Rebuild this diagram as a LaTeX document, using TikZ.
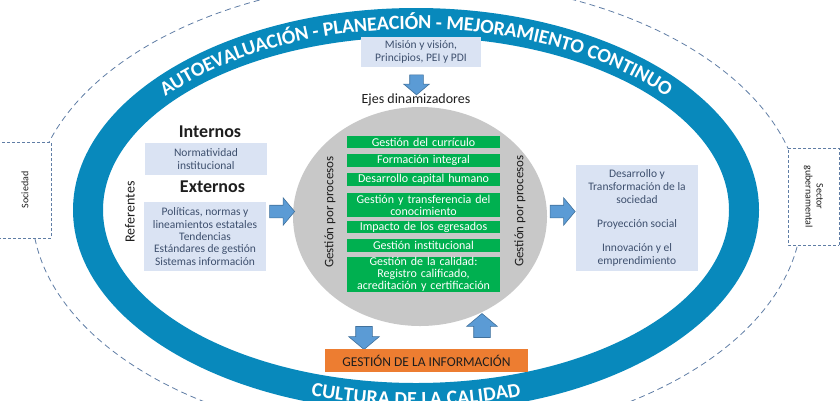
\documentclass[tikz,border=0pt]{standalone}
\usepackage{fontspec}
\setmainfont{Carlito}
\usetikzlibrary{shapes.geometric,shapes.arrows,decorations.text}
\definecolor{anillo}{RGB}{8,137,188}
\definecolor{lila}{RGB}{218,227,243}
\definecolor{azultexto}{RGB}{62,80,110}
\definecolor{verde}{RGB}{0,176,80}
\definecolor{naranja}{RGB}{237,125,49}
\definecolor{azulflecha}{RGB}{91,155,213}
\definecolor{bordeflecha}{RGB}{65,113,156}
\definecolor{gris}{RGB}{200,200,200}
\definecolor{gristrazo}{RGB}{95,125,165}
\definecolor{negro}{RGB}{30,30,30}
\begin{document}
\begin{tikzpicture}[x=1pt,y=1pt,
  caja/.style={fill=lila,text=azultexto,align=center,inner sep=0pt,font=\fontsize{11.5}{13}\selectfont},
  eje/.style={fill=verde,text=white,align=center,text width=153pt,inner sep=0pt,font=\fontsize{12}{12}\selectfont},
  flecha/.style={single arrow,fill=azulflecha,draw=bordeflecha,line width=0.6pt,inner xsep=0pt,single arrow tip angle=100},
  lateral/.style={draw=gristrazo,dash pattern=on 3pt off 2pt,line width=0.9pt,fill=white,align=center,inner sep=0pt,text=negro,font=\fontsize{10}{11}\selectfont}]
  \useasboundingbox (0,0) rectangle (840,-400);
  \clip (0,0) rectangle (840,-400);
  \draw[gristrazo,line width=0.8pt,dash pattern=on 6pt off 4pt] (417,-210) ellipse [x radius=385,y radius=230];
  \fill[anillo,even odd rule] (416,-210) ellipse [x radius=343,y radius=202] (416,-210) ellipse [x radius=313,y radius=173];
  \path[decorate,decoration={text along path,text align=center,raise=-6.5pt,
    text={|\fontsize{20}{20}\selectfont\bfseries\color{white}|AUTOEVALUACIÓN - PLANEACIÓN - MEJORAMIENTO CONTINUO}}]
    (88,-210) arc [start angle=180,end angle=0,x radius=328,y radius=187.5];
  \path[decorate,decoration={text along path,text align=center,raise=-8pt,
    text={|\fontsize{20}{20}\selectfont\bfseries\color{white}|CULTURA DE LA CALIDAD}}]
    (88,-210) arc [start angle=180,end angle=360,x radius=328,y radius=187.5];
  \node[lateral,rotate=90,minimum width=96pt,minimum height=52pt] (sociedad) at (25,-190) {Sociedad};
  \node[lateral,rotate=-90,minimum width=97pt,minimum height=51pt] (sector) at (813.5,-196.5) {Sector\\gubernamental};
  % nucleo central
  \node[ellipse,fill=gris,inner sep=0pt,minimum width=254pt,minimum height=219pt] (nucleo) at (420,-216.5) {};
  \node[caja,minimum width=120pt,minimum height=30pt] (mision) at (421,-51.5) {Misión y visión,\\Principios, PEI y PDI};
  \node[flecha,rotate=-90,inner ysep=6.5pt,minimum height=20pt,single arrow head extend=6pt] (fmision) at (416.5,-82) {};
  \node[text=negro,font=\fontsize{14}{14}\selectfont] (ejes) at (416,-100) {Ejes dinamizadores};
  \node[eje,minimum height=12pt] (e1) at (423.5,-142) {Gestión del currículo};
  \node[eje,minimum height=13pt] (e2) at (423.5,-160.5) {Formación integral};
  \node[eje,minimum height=13pt] (e3) at (423.5,-179.5) {Desarrollo capital humano};
  \node[eje,minimum height=24pt] (e4) at (423.5,-205) {Gestión y transferencia del\\conocimiento};
  \node[eje,minimum height=12pt] (e5) at (423.5,-227) {Impacto de los egresados};
  \node[eje,minimum height=13pt] (e6) at (423.5,-245.5) {Gestión institucional};
  \node[eje,minimum height=35pt] (e7) at (423.5,-274.5) {Gestión de la calidad:\\Registro calificado,\\acreditación y certificación};
  \node[rotate=90,text=negro,font=\fontsize{13}{13}\selectfont] (procizq) at (330,-212) {Gestión por procesos};
  \node[rotate=90,text=negro,font=\fontsize{13}{13}\selectfont] (procder) at (520,-211) {Gestión por procesos};
  % referentes
  \node[text=negro,font=\fontsize{18}{18}\selectfont\bfseries] (internos) at (210,-132) {Internos};
  \node[caja,minimum width=122pt,minimum height=32pt] (normatividad) at (206,-159) {Normatividad\\institucional};
  \node[text=negro,font=\fontsize{18}{18}\selectfont\bfseries] (externos) at (212.5,-187) {Externos};
  \node[caja,minimum width=122pt,minimum height=69pt,font=\fontsize{11.5}{12.3}\selectfont] (politicas) at (205,-236.5) {Políticas, normas y\\lineamientos estatales\\Tendencias\\Estándares de gestión\\Sistemas información};
  \node[rotate=90,text=negro,font=\fontsize{14}{14}\selectfont] (referentes) at (130,-212) {Referentes};
  \node[flecha,inner ysep=6pt,minimum height=25pt,single arrow head extend=7.5pt] (fizq) at (279.5,-211.5) {};
  \node[flecha,inner ysep=6pt,minimum height=25pt,single arrow head extend=7.5pt] (fder) at (560,-211.5) {};
  \node[caja,minimum width=122pt,minimum height=106pt] (proyeccion) at (637,-218) {Desarrollo y\\Transformación de la\\sociedad\\[11pt]Proyección social\\[11pt]Innovación y el\\emprendimiento};
  % informacion
  \node[flecha,rotate=-90,inner ysep=8pt,minimum height=23pt,single arrow head extend=7pt] (fbaja) at (364,-334.5) {};
  \node[flecha,rotate=90,inner ysep=8pt,minimum height=24pt,single arrow head extend=7pt] (fsube) at (482,-329) {};
  \node[fill=naranja,text=negro,minimum width=203pt,minimum height=23pt,inner sep=0pt,font=\fontsize{13.5}{13.5}\selectfont] (informacion) at (426.5,-360.5) {GESTIÓN DE LA INFORMACIÓN};
\end{tikzpicture}
\end{document}
